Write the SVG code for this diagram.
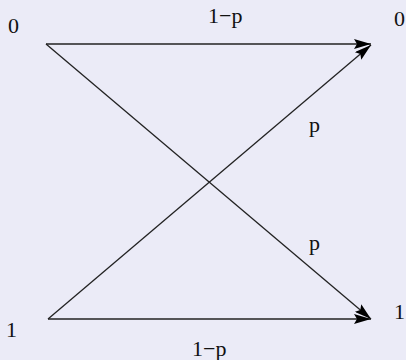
<svg xmlns="http://www.w3.org/2000/svg" width="406" height="360" viewBox="0 0 406 360">
<style>
.lbl{font-family:"Liberation Serif","Times New Roman",serif;font-size:22px;fill:#111}
.edge{stroke:#222;stroke-width:1.3;fill:none}
</style>
<defs>
<marker id="ah" viewBox="0 0 17 10" refX="17" refY="5" markerWidth="17" markerHeight="10" markerUnits="userSpaceOnUse" orient="auto">
<path d="M0,0 L17,5 L0,10 L3,5 Z" fill="#000"/>
</marker>
</defs>
<rect width="406" height="360" fill="#ebebf7"/>
<g id="connectors">
<line class="edge" x1="46" y1="44" x2="371" y2="44" marker-end="url(#ah)"/>
<line class="edge" x1="46" y1="44" x2="371" y2="319" marker-end="url(#ah)"/>
<line class="edge" x1="48" y1="319" x2="371" y2="45" marker-end="url(#ah)"/>
<line class="edge" x1="48" y1="319" x2="371" y2="319" marker-end="url(#ah)"/>
<text class="lbl" x="208" y="23">1−p</text>
<text class="lbl" x="309" y="132">p</text>
<text class="lbl" x="309" y="250">p</text>
<text class="lbl" x="192" y="356">1−p</text>
</g>
<g id="in0"><text class="lbl" x="8" y="33">0</text></g>
<g id="in1"><text class="lbl" x="6" y="337">1</text></g>
<g id="out0"><text class="lbl" x="394" y="26">0</text></g>
<g id="out1"><text class="lbl" x="394" y="319">1</text></g>
</svg>
